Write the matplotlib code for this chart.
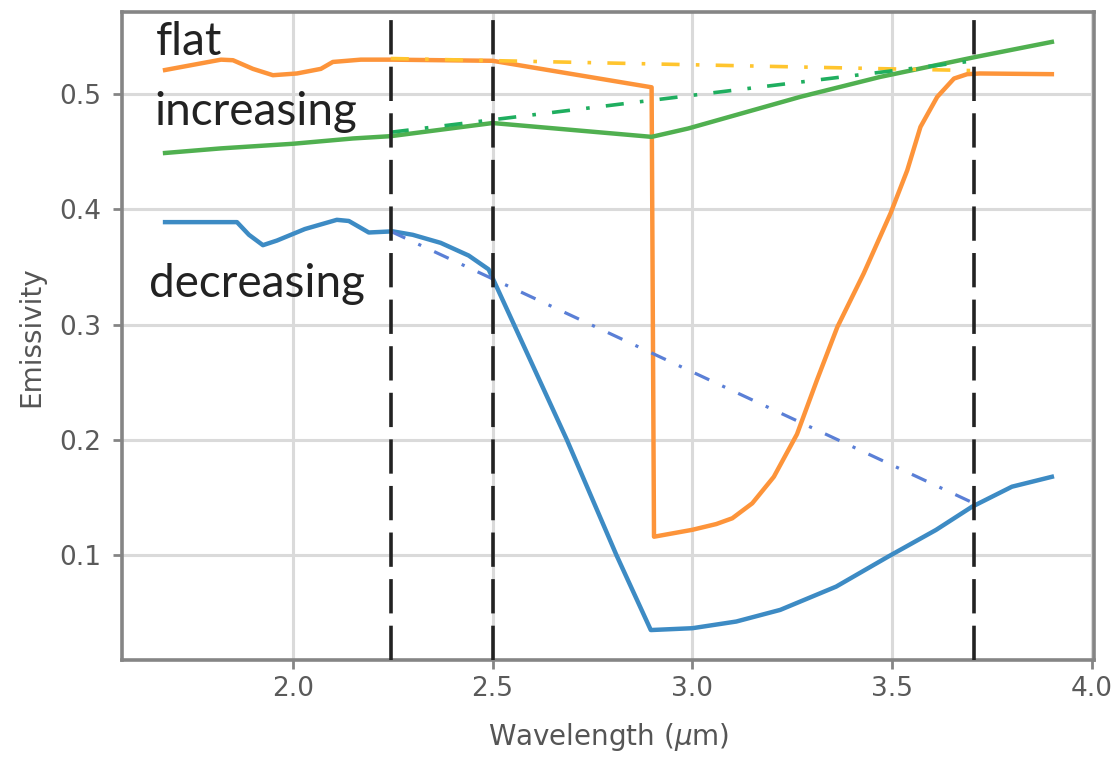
import numpy as np
from matplotlib import pyplot as plt

#wavelength / emissivity samples for the three spectra
wl_flat = [1.68, 1.82, 1.85, 1.90, 1.95, 2.01, 2.07, 2.10, 2.17, 2.245, 2.50,
           2.898, 2.904, 3.00, 3.06, 3.10, 3.15, 3.204, 3.262, 3.312, 3.363,
           3.429, 3.496, 3.538, 3.571, 3.613, 3.655, 3.688, 3.72, 3.90]
em_flat = [0.521, 0.530, 0.5295, 0.522, 0.5165, 0.518, 0.522, 0.528, 0.530, 0.530, 0.529,
           0.506, 0.116, 0.122, 0.127, 0.132, 0.145, 0.168, 0.205, 0.252, 0.298,
           0.3445, 0.3965, 0.434, 0.4716, 0.4977, 0.5136, 0.5174, 0.518, 0.5174]

wl_inc = [1.68, 1.82, 2.00, 2.15, 2.245, 2.50, 2.898, 2.99, 3.27, 3.47, 3.71, 3.90]
em_inc = [0.449, 0.453, 0.457, 0.4616, 0.4636, 0.475, 0.463, 0.4703, 0.4977, 0.515, 0.5324, 0.5454]

wl_dec = [1.68, 1.86, 1.89, 1.925, 1.96, 2.03, 2.11, 2.14, 2.19, 2.25, 2.30, 2.37, 2.44, 2.49,
          2.686, 2.81, 2.896, 3.00, 3.11, 3.22, 3.36, 3.49, 3.61, 3.70, 3.80, 3.90]
em_dec = [0.389, 0.389, 0.378, 0.369, 0.373, 0.383, 0.391, 0.390, 0.380, 0.381, 0.378, 0.371, 0.360, 0.348,
          0.200, 0.100, 0.035, 0.0366, 0.0424, 0.0525, 0.0727, 0.0987, 0.1219, 0.142, 0.1594, 0.168]

#straight-line baselines between the band edges
base_x = [2.245, 3.705]
base_flat = [0.531, 0.5205]
base_inc = [0.467, 0.529]
base_dec = [0.381, 0.145]

#band edges
edges = [2.245, 2.5, 3.705]

xticks = [2.0, 2.5, 3.0, 3.5, 4.0]
yticks = [0.1, 0.2, 0.3, 0.4, 0.5]

fig = plt.figure(figsize=(11.12, 7.61), dpi=100)
ax = fig.add_axes([0.110, 0.1327, 0.874, 0.851])

ax.plot(wl_flat, em_flat, color='#fd943a', lw=3.2, zorder=2)
ax.plot(wl_inc, em_inc, color='#50b050', lw=3.2, zorder=2)
ax.plot(wl_dec, em_dec, color='#3d8bc4', lw=3.2, zorder=2)

ax.plot(base_x, base_flat, color='#ffc52e', lw=2.6, dashes=[5, 4.5, 1, 4.5], zorder=2)
ax.plot(base_x, base_inc, color='#1fae5f', lw=2.6, dashes=[5, 4.5, 1, 4.5], zorder=2)
ax.plot(base_x, base_dec, color='#5a7fd6', lw=2.3, dashes=[5, 4.5, 1, 4.5], zorder=2)

for e in edges:
    ax.axvline(e, color='#222222', lw=2.6, dashes=[9.5, 3.4], zorder=3)

#labels for each spectrum
ax.text(1.657, 0.5338, 'flat', fontsize=33, family='Lato', color='#222222', va='baseline')
ax.text(1.654, 0.473, 'increasing', fontsize=33, family='Lato', color='#222222', va='baseline')
ax.text(1.639, 0.324, 'decreasing', fontsize=33, family='Lato', color='#222222', va='baseline')

ax.set_xlim(1.573, 4.006)
ax.set_ylim(0.009, 0.571)
ax.set_xticks(xticks)
ax.set_yticks(yticks)
ax.grid(True, color='#dadada', lw=2.2, zorder=0)
ax.set_axisbelow(True)

for s in ax.spines.values():
    s.set_color('#858585')
    s.set_linewidth(2.6)

ax.tick_params(axis='both', colors='#858585', labelcolor='#5a5a5a', labelsize=19,
               length=6.5, width=2)
ax.tick_params(axis='y', pad=9)
ax.tick_params(axis='x', pad=5)

ax.set_xlabel('Wavelength ($\\mu$m)', fontsize=20, color='#555555', labelpad=14)
ax.set_ylabel('Emissivity', fontsize=20, color='#555555', labelpad=10)

plt.savefig('out.png', dpi=100)
